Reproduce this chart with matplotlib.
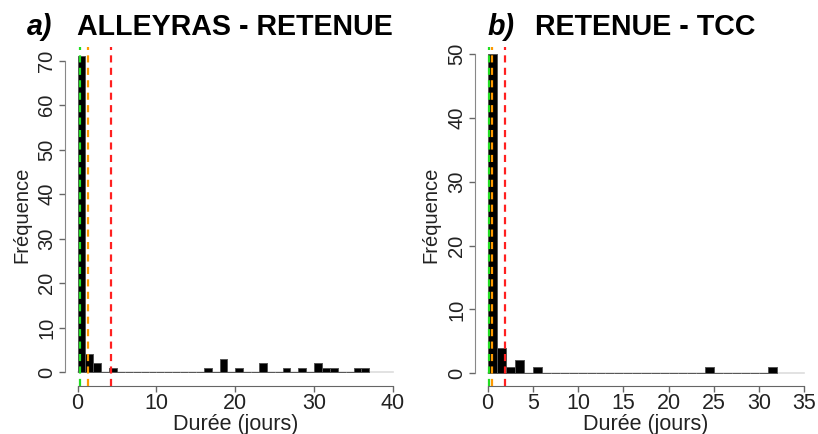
import matplotlib
matplotlib.use("Agg")
import matplotlib.pyplot as plt
import numpy as np

plt.rcParams['font.family'] = ['Liberation Sans', 'DejaVu Sans']

# histogram counts, bins of 1 day starting at 0
counts_a = [71, 4, 2, 0, 1, 0, 0, 0, 0, 0, 0, 0, 0, 0, 0, 0, 1, 0, 3, 0,
            1, 0, 0, 2, 0, 0, 1, 0, 1, 0, 2, 1, 1, 0, 0, 1, 1]
counts_b = [50, 4, 1, 2, 0, 1, 0, 0, 0, 0, 0, 0, 0, 0, 0, 0, 0, 0, 0, 0,
            0, 0, 0, 0, 1, 0, 0, 0, 0, 0, 0, 1]

# reference lines (green, orange, red)
vlines_a = [0.34, 1.31, 4.27]
vlines_b = [0.12, 0.5, 1.95]
line_colors = ['#22dd22', '#ff9900', '#ff2020']

titles = [('a)', 'ALLEYRAS - RETENUE'), ('b)', 'RETENUE - TCC')]
xticks_a = [0, 10, 20, 30, 40]
xticks_b = [0, 5, 10, 15, 20, 25, 30, 35]
yticks_a = [0, 10, 20, 30, 40, 50, 60, 70]
yticks_b = [0, 10, 20, 30, 40, 50]

W, H = 818, 434
fig = plt.figure(figsize=(W / 100, H / 100), dpi=100)


def px_box(x0, x1, y0, y1):
    return [x0 / W, 1 - y1 / H, (x1 - x0) / W, (y1 - y0) / H]


def panel(box, counts, vl, xticks, yticks, ylim, ylab_x):
    ax = fig.add_axes(box)
    edges = np.arange(len(counts))
    ax.bar(edges, counts, width=1, align='edge', color='black',
           edgecolor='#555555', linewidth=0.7, zorder=2)
    xmax = xticks[-1]
    ax.plot([0, xmax], [0, 0], color='#dddddd', lw=1.2, zorder=1)
    for v, c in zip(vl, line_colors):
        ax.axvline(v, color=c, lw=1.6, ls=(0, (3.2, 2.4)), zorder=3)
    pad = 0.04 * xmax
    ax.set_xlim(-pad, xmax + pad)
    ax.set_ylim(*ylim)
    for s in ['top', 'right']:
        ax.spines[s].set_visible(False)
    ax.spines['left'].set_bounds(yticks[0], yticks[-1])
    ax.spines['bottom'].set_bounds(xticks[0], xticks[-1])
    ax.spines['left'].set_color('#888888')
    ax.spines['bottom'].set_color('#666666')
    ax.set_xticks(xticks)
    ax.set_yticks(yticks)
    ax.tick_params(axis='both', length=4, width=1, colors='#666666',
                   labelcolor='#222222')
    ax.tick_params(axis='x', pad=1, labelsize=15.5)
    ax.tick_params(axis='y', pad=2.4, labelsize=14.5)
    for t in ax.get_yticklabels():
        t.set_rotation(90)
        t.set_va('center')
        t.set_ha('right')
    ax.set_xlabel('Durée (jours)', fontsize=15.5, color='#222222', labelpad=0)
    fig.text(ylab_x / W, 1 - 215 / H, 'Fréquence', rotation=90,
             ha='center', va='center', fontsize=14.5, color='#222222')
    return ax


panel(px_box(65, 405.6, 47, 386), counts_a, vlines_a, xticks_a, yticks_a,
      (-3.1, 73.1), 21.5)
panel(px_box(475, 817, 47, 386), counts_b, vlines_b, xticks_b, yticks_b,
      (-2.0, 51.1), 431)

# titles
ty = 1 - 35 / H
fig.text(27 / W, ty, titles[0][0], fontsize=20.6, fontweight='bold',
         style='italic', va='baseline')
fig.text(77 / W, ty, titles[0][1], fontsize=20.6, fontweight='bold',
         va='baseline')
fig.text(488 / W, ty, titles[1][0], fontsize=20.6, fontweight='bold',
         style='italic', va='baseline')
fig.text(535 / W, ty, titles[1][1], fontsize=20.6, fontweight='bold',
         va='baseline')

fig.savefig('out.png', dpi=100)
